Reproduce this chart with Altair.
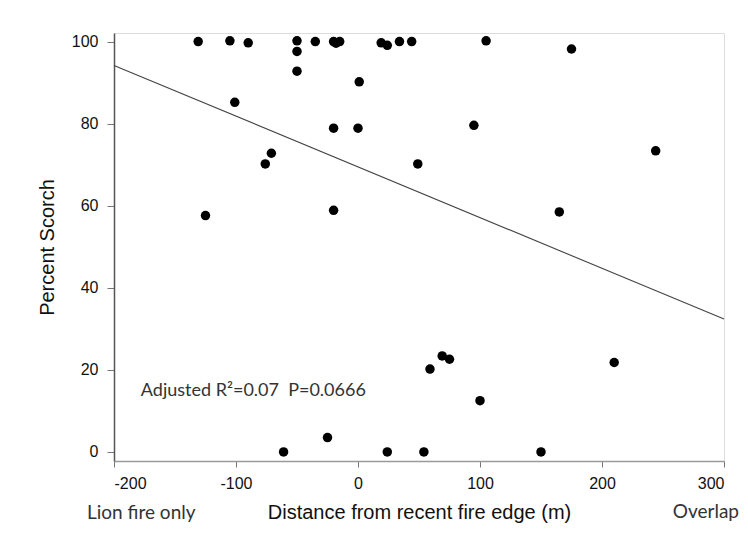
import altair as alt
import pandas as pd

distance = [-131, -105, -90, -50, -50, -50, -35, -20, -18, -15, 19, 24, 34, 44, 105, 175,
            1, -101, -20, 0, 95, -71, -76, 49, 244, -125, -20, 165,
            59, 69, 75, 210, 100, -61, -25, 24, 54, 150]
scorch = [100, 100.2, 99.7, 100.2, 97.6, 92.8, 100, 100, 99.6, 100, 99.7, 99.1, 100, 100, 100.2, 98.2,
          90.2, 85.2, 78.9, 78.9, 79.6, 72.8, 70.2, 70.2, 73.4, 57.6, 58.9, 58.5,
          20.2, 23.4, 22.6, 21.8, 12.5, 0, 3.5, 0, 0, 0]

fit_x = [-200, 300]
fit_y = [94.2, 32.4]

x_ticks = [-200, -100, 0, 100, 200, 300]
y_ticks = [0, 20, 40, 60, 80, 100]

pts = pd.DataFrame({"d": distance, "s": scorch})
fit = pd.DataFrame({"d": fit_x, "s": fit_y})

xs = alt.Scale(domain=[-200, 300], nice=False, zero=False)
ys = alt.Scale(domain=[-2.2, 102.1], nice=False, zero=False)

xaxis = alt.Axis(values=x_ticks, grid=False, domainColor="#9a9a9a", domainWidth=1.5,
                 tickColor="#777", tickSize=6, labelPadding=8, labelFontSize=16,
                 labelFont="Liberation Sans", labelColor="#111",
                 labelExpr="toString(datum.value)",
                 title="Distance from recent fire edge (m)", titleFont="Liberation Sans",
                 titleFontSize=20, titleFontWeight="normal", titleColor="#111", titlePadding=11)
yaxis = alt.Axis(values=y_ticks, grid=False, domainColor="#555", domainWidth=1.5,
                 tickColor="#777", tickSize=7, labelPadding=9, labelFontSize=16,
                 labelFont="Liberation Sans", labelColor="#111",
                 labelExpr="toString(datum.value)",
                 title="Percent Scorch", titleFont="Liberation Sans",
                 titleFontSize=20, titleFontWeight="normal", titleColor="#111", titlePadding=14)

points = alt.Chart(pts).mark_circle(size=90, color="black", opacity=1).encode(
    x=alt.X("d:Q", scale=xs, axis=xaxis),
    y=alt.Y("s:Q", scale=ys, axis=yaxis),
)

line = alt.Chart(fit).mark_line(color="#444", strokeWidth=1.1).encode(
    x=alt.X("d:Q", scale=xs),
    y=alt.Y("s:Q", scale=ys),
)

ann = alt.Chart(pd.DataFrame({"d": [-178], "s": [14.9],
                              "t": ["Adjusted R\u00b2=0.07 \u00a0P=0.0666"]})).mark_text(
    align="left", baseline="middle", font="Lato", fontSize=18, color="#333"
).encode(x=alt.X("d:Q", scale=xs), y=alt.Y("s:Q", scale=ys), text="t:N")

left_lbl = alt.Chart(pd.DataFrame({"t": ["Lion fire only"]})).mark_text(
    align="left", baseline="middle", font="Lato", fontSize=19, color="#333"
).encode(x=alt.value(-27), y=alt.value(480), text="t:N")

right_lbl = alt.Chart(pd.DataFrame({"t": ["Overlap"]})).mark_text(
    align="right", baseline="middle", font="Lato", fontSize=19, color="#333"
).encode(x=alt.value(625), y=alt.value(479), text="t:N")

chart = alt.layer(points, line, ann, left_lbl, right_lbl).properties(
    width=610, height=428,
    autosize=alt.AutoSizeParams(type="none"),
    padding={"left": 106, "top": 25, "right": 16, "bottom": 90},
).configure_view(stroke="#8a8a8a", strokeWidth=1.5).configure(background="white")

chart.save("out.html", embed_options={"renderer": "svg", "actions": False})
